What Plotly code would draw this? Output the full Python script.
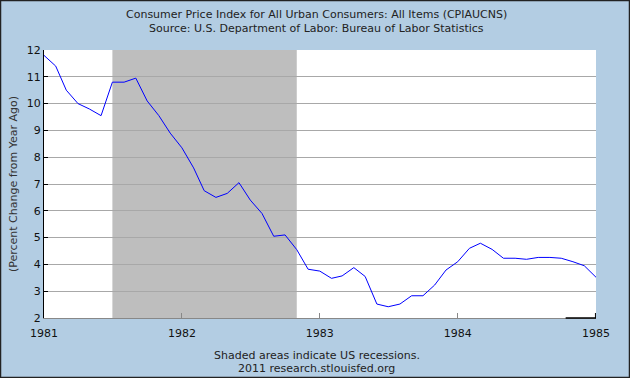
import plotly.graph_objects as go

months = [f"{y}-{m:02d}-01" for y in range(1981, 1985) for m in range(1, 13)] + ["1985-01-01"]
cpi_yoy = [
    11.8, 11.4, 10.5, 10.0, 9.8, 9.55, 10.8, 10.8, 10.95, 10.1, 9.55, 8.9,
    8.35, 7.6, 6.75, 6.5, 6.65, 7.05, 6.4, 5.9, 5.05, 5.1, 4.55, 3.82,
    3.75, 3.48, 3.57, 3.88, 3.55, 2.52, 2.42, 2.52, 2.83, 2.83, 3.23, 3.79,
    4.1, 4.6, 4.79, 4.56, 4.23, 4.23, 4.19, 4.26, 4.26, 4.23, 4.1, 3.95,
    3.52,
]
recession_start = "1981-07-01"
recession_end = "1982-11-01"
x_ticks = ["1981-01-01", "1982-01-01", "1983-01-01", "1984-01-01", "1985-01-01"]
x_tick_labels = ["1981", "1982", "1983", "1984", "1985"]
y_ticks = list(range(2, 13))

title_lines = [
    "Consumer Price Index for All Urban Consumers: All Items (CPIAUCNS)",
    "Source: U.S. Department of Labor: Bureau of Labor Statistics",
]
footer_lines = ["Shaded areas indicate US recessions.", "2011 research.stlouisfed.org"]

font_family = "DejaVu Sans, Verdana, sans-serif"
bg = "#B3CDE3"

fig = go.Figure()
fig.add_trace(go.Scatter(
    x=months, y=cpi_yoy, mode="lines",
    line=dict(color="#0000FF", width=1),
    hoverinfo="skip", showlegend=False,
))

fig.add_shape(type="rect", xref="x", yref="paper",
              x0=recession_start, x1=recession_end, y0=0, y1=1,
              fillcolor="#BEBEBE", line_width=0, layer="below")

# small black axis fragment at bottom right
fig.add_shape(type="line", xref="paper", yref="paper", x0=0.945, x1=1.0, y0=0, y1=0,
              line=dict(color="#000000", width=1.5))
fig.add_shape(type="line", xref="paper", yref="paper", x0=0.999, x1=0.999, y0=0, y1=5/268,
              line=dict(color="#000000", width=1))
# outer border
fig.add_shape(type="rect", xref="paper", yref="paper", x0=-43.5/552, x1=1+33.5/552,
              y0=-59.5/268, y1=1+49.5/268, line=dict(color="#222222", width=1.5))

fig.update_layout(
    width=630, height=378,
    margin=dict(l=44, r=34, t=50, b=60),
    paper_bgcolor=bg, plot_bgcolor="#FFFFFF",
    font=dict(family=font_family, size=11, color="#222222"),
    showlegend=False,
    xaxis=dict(
        range=["1981-01-01", "1985-01-01"],
        tickvals=x_ticks, ticktext=x_tick_labels,
        ticks="inside", ticklen=5, tickcolor="#888888",
        showgrid=False, showline=True, linecolor="#888888", linewidth=1,
        zeroline=False, tickfont=dict(size=11, color="#111111"),
        ticklabelstandoff=5,
    ),
    yaxis=dict(
        range=[2, 12], tickvals=y_ticks,
        ticks="inside", ticklen=4, tickcolor="#000000",
        showgrid=True, gridcolor="#A8A8A8", gridwidth=1,
        showline=True, linecolor="#000000", linewidth=1,
        zeroline=False, tickfont=dict(size=11, color="#111111"),
        title=dict(text="(Percent Change from Year Ago)", standoff=6,
                   font=dict(size=11, color="#333333")),
    ),
)

for i, t in enumerate(title_lines):
    fig.add_annotation(text=t, xref="paper", yref="paper", x=0.494, y=1 + (36 - 14 * i) / 268,
                       showarrow=False, xanchor="center", yanchor="middle",
                       font=dict(size=11, color="#222222"))
for i, t in enumerate(footer_lines):
    fig.add_annotation(text=t, xref="paper", yref="paper", x=0.494, y=-(37 + 13 * i) / 268,
                       showarrow=False, xanchor="center", yanchor="middle",
                       font=dict(size=11, color="#222222"))

fig.write_html("out.html", config={"displayModeBar": False, "staticPlot": True})

with open("out.html", "r", encoding="utf-8") as f:
    html = f.read()
html = html.replace("<head>", "<head><style>html,body{margin:0;padding:0;overflow:hidden;}</style>", 1)
with open("out.html", "w", encoding="utf-8") as f:
    f.write(html)
